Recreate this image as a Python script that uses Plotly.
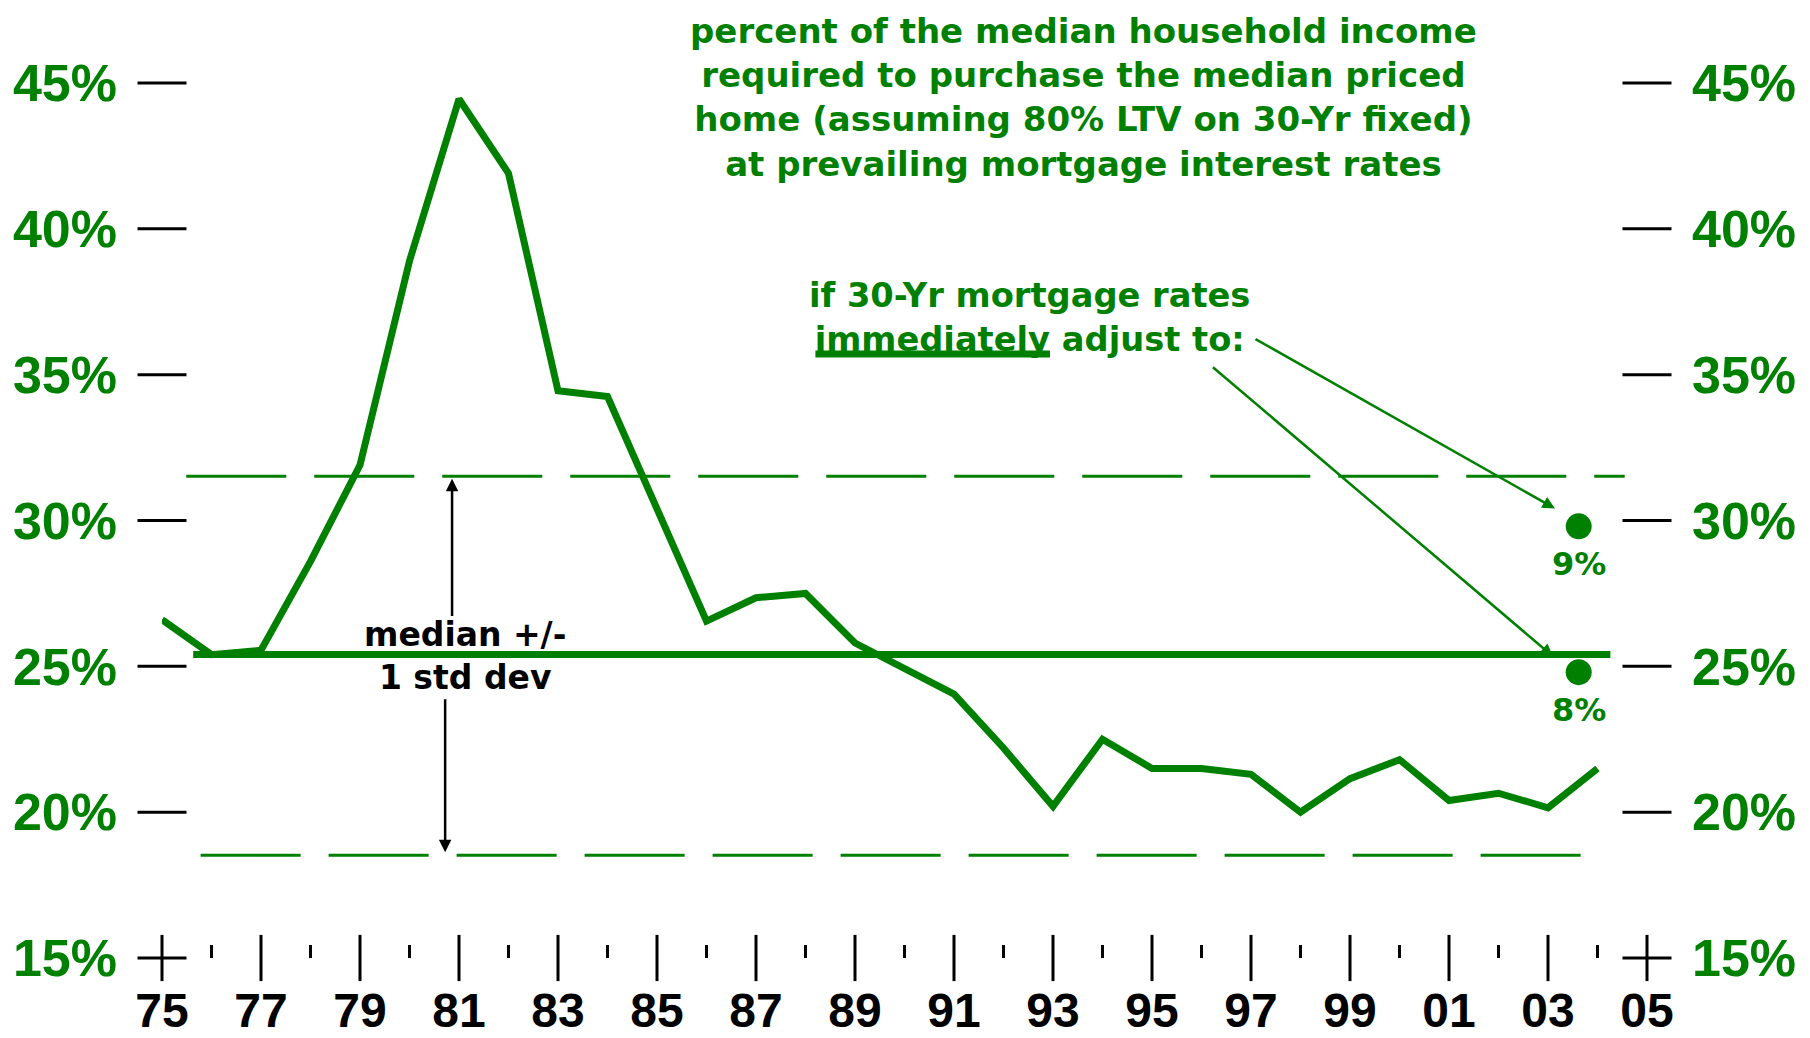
import plotly.graph_objects as go

GREEN = "#008000"
TICK_FONT = "Liberation Sans, Arial, sans-serif"
NOTE_FONT = "DejaVu Sans, Verdana, sans-serif"

# share of median income needed to buy the median home, one value per year
years = list(range(1975, 2005))
affordability = [26.6, 25.4, 25.55, 28.6, 31.9, 38.9, 44.45, 41.9, 34.45, 34.25,
                 30.4, 26.55, 27.35, 27.5, 25.8, 24.95, 24.05, 22.2, 20.2, 22.5,
                 21.5, 21.5, 21.3, 20.0, 21.15, 21.8, 20.4, 20.65, 20.15, 21.5]

# median and +/- 1 std dev band
median_level = 25.41
band_upper = 31.52
band_lower = 18.52
median_span = [1975.63, 2004.26]
upper_span = [1975.49, 2004.55]
lower_span = [1975.78, 2003.9]

# what-if mortgage rates
scenario_rates = ["9%", "8%"]
scenario_years = [2003.62, 2003.62]
scenario_values = [29.8, 24.8]

# axis ticks
y_ticks = [15, 20, 25, 30, 35, 40, 45]
y_labels = [str(v) + "%" for v in y_ticks]
major_years = list(range(1975, 2006, 2))
major_labels = [str(y)[2:] for y in major_years]
minor_years = list(range(1976, 2005, 2))
x_ends = [1975, 2005]

fig = go.Figure()

fig.add_trace(go.Scatter(x=upper_span, y=[band_upper] * 2, mode="lines",
                         line=dict(color=GREEN, width=3, dash="100px,28px")))
fig.add_trace(go.Scatter(x=lower_span, y=[band_lower] * 2, mode="lines",
                         line=dict(color=GREEN, width=3, dash="100px,28px")))
fig.add_trace(go.Scatter(x=median_span, y=[median_level] * 2, mode="lines",
                         line=dict(color=GREEN, width=7)))
fig.add_trace(go.Scatter(x=years, y=affordability, mode="lines",
                         line=dict(color=GREEN, width=7)))

# centred tick marks ("+" style) on both y edges and on the year axis
# (line symbols are drawn 1.4x the marker size)
fig.add_trace(go.Scatter(x=[x for x in x_ends for _ in y_ticks], y=y_ticks * len(x_ends),
                         mode="markers", cliponaxis=False, hoverinfo="skip",
                         marker=dict(symbol="line-ew", size=35, color="black",
                                     line=dict(width=3, color="black"))))
fig.add_trace(go.Scatter(x=major_years, y=[y_ticks[0]] * len(major_years),
                         mode="markers", cliponaxis=False, hoverinfo="skip",
                         marker=dict(symbol="line-ns", size=33, color="black",
                                     line=dict(width=3, color="black"))))

fig.add_trace(go.Scatter(x=scenario_years, y=scenario_values, mode="markers",
                         yaxis="y2", cliponaxis=False,
                         marker=dict(color=GREEN, size=26)))

annotations = [
    dict(x=1993.61, y=44.52, xref="x", yref="y", showarrow=False,
         text="percent of the median household income<br>"
              "required to purchase the median priced<br>"
              "home (assuming 80% LTV on 30-Yr fixed)<br>"
              "at prevailing mortgage interest rates",
         font=dict(family=NOTE_FONT, size=34, color=GREEN, weight="bold")),
    dict(x=1992.53, y=36.96, xref="x", yref="y", showarrow=False,
         text="if 30-Yr mortgage rates<br>immediately adjust to:",
         font=dict(family=NOTE_FONT, size=33.7, color=GREEN, weight="bold")),
    dict(x=1981.12, y=25.37, xref="x", yref="y", showarrow=False,
         text="median +/-<br>1 std dev",
         font=dict(family=NOTE_FONT, size=33, color="black", weight="bold")),
    # std dev arrows
    dict(x=1980.86, y=31.43, ax=1980.86, ay=26.67, xref="x", yref="y",
         axref="x", ayref="y", text="", showarrow=True, arrowhead=2,
         arrowsize=1, arrowwidth=2.5, arrowcolor="black", standoff=0),
    dict(x=1980.72, y=18.63, ax=1980.72, ay=23.92, xref="x", yref="y",
         axref="x", ayref="y", text="", showarrow=True, arrowhead=2,
         arrowsize=1, arrowwidth=2.5, arrowcolor="black", standoff=0),
    # pointers to the scenario dots
    dict(x=2003.14, y=30.41, ax=1997.06, ay=36.25, xref="x", yref="y",
         axref="x", ayref="y", text="", showarrow=True, arrowhead=2,
         arrowsize=1, arrowwidth=2.5, arrowcolor=GREEN, standoff=0),
    dict(x=2003.1, y=25.34, ax=1996.2, ay=35.3, xref="x", yref="y",
         axref="x", ayref="y", text="", showarrow=True, arrowhead=2,
         arrowsize=1, arrowwidth=2.5, arrowcolor=GREEN, standoff=0),
]
# rate labels under the scenario dots
for yr, val, rate in zip(scenario_years, scenario_values, scenario_rates):
    annotations.append(dict(x=yr, y=val, xref="x", yref="y", yshift=-38, showarrow=False,
                            text=rate,
                            font=dict(family=NOTE_FONT, size=32, color=GREEN, weight="bold")))

# thick underline under "immediately"
fig.add_shape(type="line", x0=1988.2, x1=1992.94, y0=35.71, y1=35.71,
              xref="x", yref="y", line=dict(color=GREEN, width=7))

tickfont_y = dict(family=TICK_FONT, size=52, color=GREEN, weight="bold")
common = dict(showgrid=False, zeroline=False, showline=False, automargin=False)

fig.update_layout(
    width=1802, height=1030,
    margin=dict(l=153.6, r=162.8, t=75.1, b=79.9, autoexpand=False),
    paper_bgcolor="white", plot_bgcolor="white",
    showlegend=False,
    annotations=annotations,
    xaxis=dict(range=[1975, 2005], tickmode="array", tickvals=major_years, ticktext=major_labels,
               ticks="", ticklabelstandoff=20,
               tickfont=dict(family=TICK_FONT, size=48, color="black", weight="bold"),
               minor=dict(tickmode="array", tickvals=minor_years, ticks="inside", ticklen=13,
                          tickwidth=3, tickcolor="black"),
               **common),
    yaxis=dict(range=[15, 45], tickmode="array", tickvals=y_ticks, ticktext=y_labels,
               ticks="", ticklabelstandoff=44, tickfont=tickfont_y, **common),
    yaxis2=dict(range=[15, 45], overlaying="y", side="right",
                tickmode="array", tickvals=y_ticks, ticktext=y_labels,
                ticks="", ticklabelstandoff=44, tickfont=tickfont_y, **common),
)

fig.write_html("out.html")
